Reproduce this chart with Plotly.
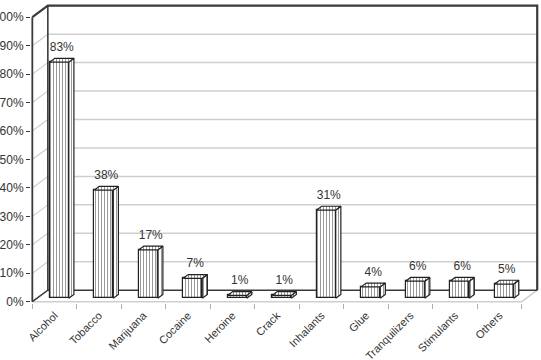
import plotly.graph_objects as go

# ---------------- data ----------------
categories = ["Alcohol", "Tobacco", "Marijuana", "Cocaine", "Heroine", "Crack",
              "Inhalants", "Glue", "Tranquilizers", "Stimulants", "Others"]
values = [83, 38, 17, 7, 1, 1, 31, 4, 6, 6, 5]
value_labels = [f"{v}%" for v in values]
y_ticks = list(range(0, 101, 10))
y_tick_text = [f"{t}%" for t in y_ticks]

# ---------------- geometry / style ----------------
W, H = 541, 360
AX_LEFT = 32.5      # pixel x of front vertical axis
AX_ZERO = 301.7     # pixel y of front 0%
PX_CAT = 44.47      # pixels per category
PX_PCT = 2.844      # pixels per 1%
WALL_DX, WALL_DY = 15.5, 11.5   # 3D depth offset in pixels

DX = WALL_DX / PX_CAT
DY = WALL_DY / PX_PCT
n = len(categories)

x_lo, x_hi = -0.03, n + DX + 0.04
y_lo, y_hi = -0.45, 100 + DY + 0.6
ml = AX_LEFT + x_lo * PX_CAT
plot_w = (x_hi - x_lo) * PX_CAT
mr = W - ml - plot_w
mb = H - (AX_ZERO - y_lo * PX_PCT)
plot_h = (y_hi - y_lo) * PX_PCT
mt = H - mb - plot_h

D0, D1 = 0.30, 0.63     # bar front / back depth fraction
BW = 0.43               # bar width in category units

DARK = "#3a3a3a"
GRID = "#cfcfcf"
FONT = "Liberation Sans, Arial, sans-serif"

fig = go.Figure()


def seg(xs, ys, color, width, xa="x", ya="y"):
    fig.add_trace(go.Scatter(x=xs, y=ys, mode="lines", xaxis=xa, yaxis=ya,
                             line=dict(color=color, width=width),
                             hoverinfo="skip", showlegend=False))


# ---------------- walls (subplot 1) ----------------
for t in y_ticks[1:-1]:
    # back wall gridline
    seg([DX, n + DX], [t + DY, t + DY], GRID, 1.5)
    # side wall gridline
    seg([0, DX], [t, t + DY], GRID, 1.2)

# floor front and right edges
seg([0, n, n + DX], [0, 0, DY], GRID, 1.5)
# dark frame
seg([0, DX, n + DX], [0, DY, DY], DARK, 1.6)                 # floor left + back edge
seg([DX, DX], [DY, 100 + DY], DARK, 1.6)                      # back wall left edge
seg([0, DX, n + DX, n + DX], [100, 100 + DY, 100 + DY, DY], DARK, 2.2)  # top + right edge
seg([0, 0], [0, 100], DARK, 1.8)                              # front axis

# ---------------- bars (subplot 2, drawn on top) ----------------
centers = [i + 0.5 + D0 * DX for i in range(n)]
pattern = dict(shape="|", size=3, solidity=0.34, fgcolor="#333333", bgcolor="white")

fig.add_trace(go.Bar(x=centers, y=values, base=[D0 * DY] * n, width=BW,
                     xaxis="x2", yaxis="y2",
                     marker=dict(color="white", pattern=pattern,
                                 line=dict(color="#222222", width=1.2)),
                     hoverinfo="skip", showlegend=False))

ddx = (D1 - D0) * DX
ddy = (D1 - D0) * DY
side_x, side_y, top_x, top_y = [], [], [], []
for c, v in zip(centers, values):
    xl, xr = c - BW / 2, c + BW / 2
    yb, yt = D0 * DY, D0 * DY + v
    side_x += [xr, xr, xr + ddx, xr + ddx, xr, None]
    side_y += [yb, yt, yt + ddy, yb + ddy, yb, None]
    top_x += [xl, xr, xr + ddx, xl + ddx, xl, None]
    top_y += [yt, yt, yt + ddy, yt + ddy, yt, None]

for xs, ys in ((side_x, side_y), (top_x, top_y)):
    fig.add_trace(go.Scatter(x=xs, y=ys, mode="lines", fill="toself",
                             xaxis="x2", yaxis="y2",
                             fillcolor="white",
                             fillpattern=dict(shape="|", size=3, solidity=0.34,
                                              fgcolor="#333333", bgcolor="white"),
                             line=dict(color="#222222", width=1.2),
                             hoverinfo="skip", showlegend=False))

LABEL_OFF = 10.5 / PX_PCT
fig.add_trace(go.Scatter(x=[c + ddx / 2 for c in centers],
                         y=[v + D1 * DY + LABEL_OFF for v in values],
                         mode="text", text=value_labels, textposition="middle center",
                         textfont=dict(family=FONT, size=12, color="#333333"),
                         xaxis="x2", yaxis="y2", cliponaxis=False,
                         hoverinfo="skip", showlegend=False))

# ---------------- layout ----------------
fig.update_layout(
    width=W, height=H,
    margin=dict(l=ml, r=mr, t=mt, b=mb, pad=0),
    paper_bgcolor="white", plot_bgcolor="white",
    font=dict(family=FONT, size=12, color="#333333"),
    xaxis=dict(range=[x_lo, x_hi], tickmode="array", tickvals=list(range(n + 1)),
               showticklabels=False, ticks="outside", ticklen=5, tickcolor="#b0b0b0",
               tickwidth=1.2, showgrid=False, zeroline=False, showline=False,
               automargin=False, fixedrange=True),
    xaxis2=dict(range=[x_lo, x_hi], overlaying="x", tickmode="array",
                tickvals=[i + 0.5 for i in range(n)], ticktext=categories,
                tickangle=-45, ticks="", ticklabelstandoff=3,
                tickfont=dict(family=FONT, size=11, color="#333333"),
                showgrid=False, zeroline=False, showline=False, automargin=False),
    yaxis=dict(range=[y_lo, y_hi], tickmode="array", tickvals=y_ticks,
               ticktext=y_tick_text, ticks="outside", ticklen=4, tickcolor=DARK,
               tickfont=dict(family=FONT, size=12, color="#333333"),
               showgrid=False, zeroline=False, showline=False, automargin=False),
    yaxis2=dict(range=[y_lo, y_hi], overlaying="y", showticklabels=False,
                showgrid=False, zeroline=False, showline=False, automargin=False),
    bargap=0,
)

fig.write_html("out.html")
